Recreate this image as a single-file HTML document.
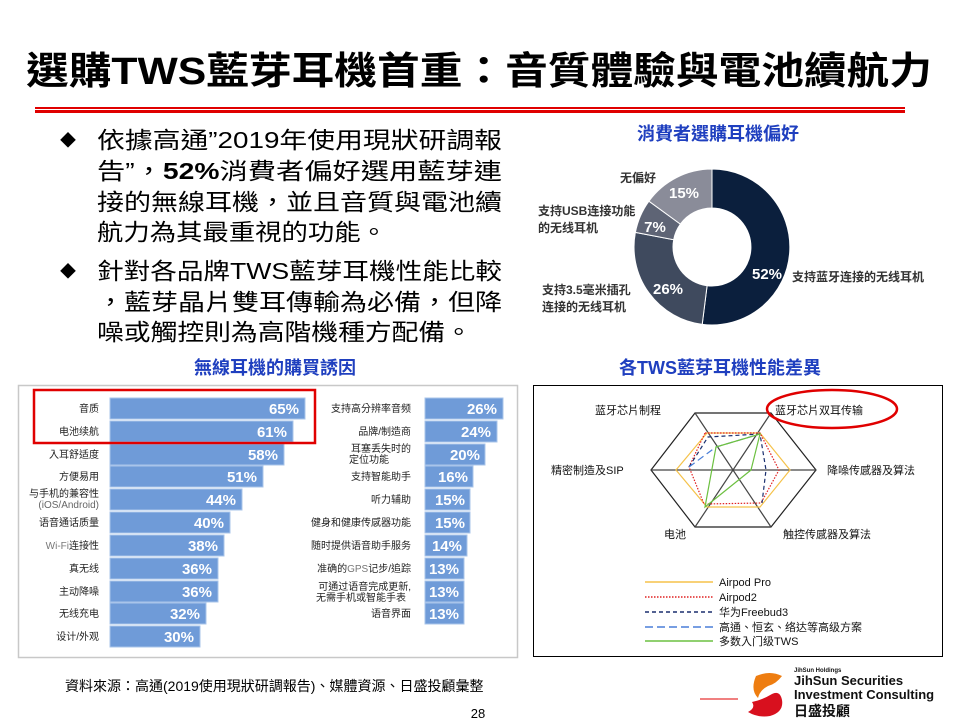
<!DOCTYPE html>
<html><head><meta charset="utf-8"><style>
html,body{margin:0;padding:0;background:#fff}
svg{display:block}
text{font-family:"Liberation Sans","Noto Sans CJK TC","Noto Sans CJK SC",sans-serif}
</style></head><body>
<svg width="960" height="720" viewBox="0 0 960 720" xmlns="http://www.w3.org/2000/svg">
<!-- Title -->
<text x="26" y="84" font-size="38" font-weight="bold" fill="#000" textLength="906" lengthAdjust="spacingAndGlyphs">選購TWS藍芽耳機首重：音質體驗與電池續航力</text>
<rect x="35" y="107" width="870" height="2" fill="#e00000"/>
<rect x="35" y="110" width="870" height="3" fill="#e00000"/>

<!-- Bullets -->
<g font-size="23" fill="#000">
<text x="60" y="146" font-size="16">◆</text>
<text x="97" y="148" textLength="405" lengthAdjust="spacingAndGlyphs">依據高通”2019年使用現狀研調報</text>
<text x="97" y="179" textLength="405" lengthAdjust="spacingAndGlyphs">告”，<tspan font-weight="bold">52%</tspan>消費者偏好選用藍芽連</text>
<text x="97" y="210" textLength="405" lengthAdjust="spacingAndGlyphs">接的無線耳機，並且音質與電池續</text>
<text x="97" y="240" textLength="290" lengthAdjust="spacingAndGlyphs">航力為其最重視的功能。</text>
<text x="60" y="277" font-size="16">◆</text>
<text x="97" y="279" textLength="405" lengthAdjust="spacingAndGlyphs">針對各品牌TWS藍芽耳機性能比較</text>
<text x="97" y="310" textLength="405" lengthAdjust="spacingAndGlyphs">，藍芽晶片雙耳傳輸為必備，但降</text>
<text x="97" y="340" textLength="375" lengthAdjust="spacingAndGlyphs">噪或觸控則為高階機種方配備。</text>
</g>

<!-- Section titles -->
<g font-size="18" font-weight="bold" fill="#1f3fbf" text-anchor="middle">
<text x="718" y="140">消費者選購耳機偏好</text>
<text x="275" y="374">無線耳機的購買誘因</text>
<text x="720" y="374">各TWS藍芽耳機性能差異</text>
</g>

<!-- Donut -->
<g stroke="#fff" stroke-width="1">
<path d="M712,169 A78,78 0 1 1 702.2,324.4 L707.1,285.7 A39,39 0 1 0 712,208 Z" fill="#0b1f3d"/>
<path d="M702.2,324.4 A78,78 0 0 1 635.4,232.4 L673.7,239.7 A39,39 0 0 0 707.1,285.7 Z" fill="#3f4a5e"/>
<path d="M635.4,232.4 A78,78 0 0 1 648.9,201.2 L680.4,224.1 A39,39 0 0 0 673.7,239.7 Z" fill="#5e6475"/>
<path d="M648.9,201.2 A78,78 0 0 1 712,169 L712,208 A39,39 0 0 0 680.4,224.1 Z" fill="#8a8c99"/>
</g>
<g fill="#fff" font-weight="bold" font-size="15" text-anchor="middle">
<text x="767" y="279">52%</text>
<text x="668" y="294">26%</text>
<text x="655" y="232">7%</text>
<text x="684" y="198">15%</text>
</g>
<g fill="#333" font-size="12" font-weight="bold">
<text x="792" y="281">支持蓝牙连接的无线耳机</text>
<text x="542" y="294">支持3.5毫米插孔</text>
<text x="542" y="311">连接的无线耳机</text>
<text x="538" y="215">支持USB连接功能</text>
<text x="538" y="232">的无线耳机</text>
<text x="620" y="182">无偏好</text>
</g>

<!-- Bar chart panel -->
<rect x="18.5" y="385.5" width="499" height="272" fill="#fff" stroke="#c8c8c8" stroke-width="1.5"/>
<g id="bars">
<g fill="#6f9bd8" stroke="#a9c4ea" stroke-width="1">
<rect x="110" y="398" width="195" height="21"/>
<rect x="110" y="421" width="183" height="21"/>
<rect x="110" y="444" width="174" height="21"/>
<rect x="110" y="466" width="153" height="21"/>
<rect x="110" y="489" width="132" height="21"/>
<rect x="110" y="512" width="120" height="21"/>
<rect x="110" y="535" width="114" height="21"/>
<rect x="110" y="558" width="108" height="21"/>
<rect x="110" y="581" width="108" height="21"/>
<rect x="110" y="603" width="96" height="21"/>
<rect x="110" y="626" width="90" height="21"/>
<rect x="425" y="398" width="78" height="21"/>
<rect x="425" y="421" width="72" height="21"/>
<rect x="425" y="444" width="60" height="21"/>
<rect x="425" y="466" width="48" height="21"/>
<rect x="425" y="489" width="45" height="21"/>
<rect x="425" y="512" width="45" height="21"/>
<rect x="425" y="535" width="42" height="21"/>
<rect x="425" y="558" width="39" height="21"/>
<rect x="425" y="581" width="39" height="21"/>
<rect x="425" y="603" width="39" height="21"/>
</g>
<g fill="#fff" font-weight="bold" font-size="15" text-anchor="end">
<text x="299" y="414">65%</text><text x="287" y="437">61%</text><text x="278" y="460">58%</text>
<text x="257" y="482">51%</text><text x="236" y="505">44%</text><text x="224" y="528">40%</text>
<text x="218" y="551">38%</text><text x="212" y="574">36%</text><text x="212" y="597">36%</text>
<text x="200" y="619">32%</text><text x="194" y="642">30%</text>
<text x="497" y="414">26%</text><text x="491" y="437">24%</text><text x="480" y="460">20%</text>
<text x="468" y="482">16%</text><text x="465" y="505">15%</text><text x="465" y="528">15%</text>
<text x="462" y="551">14%</text><text x="459" y="574">13%</text><text x="459" y="597">13%</text>
<text x="459" y="619">13%</text>
</g>
<g fill="#222" font-size="10" text-anchor="end">
<text x="99" y="412">音质</text><text x="99" y="435">电池续航</text><text x="99" y="458">入耳舒适度</text>
<text x="99" y="480">方便易用</text>
<text x="99" y="497">与手机的兼容性</text><text x="99" y="508" fill="#666">(iOS/Android)</text>
<text x="99" y="526">语音通话质量</text><text x="99" y="549"><tspan fill="#777">Wi-Fi</tspan>连接性</text>
<text x="99" y="572">真无线</text><text x="99" y="595">主动降噪</text><text x="99" y="617">无线充电</text>
<text x="99" y="640">设计/外观</text>
<text x="411" y="412">支持高分辨率音频</text><text x="411" y="435">品牌/制造商</text>
<text x="411" y="452">耳塞丢失时的</text><text x="349" y="463" text-anchor="start">定位功能</text>
<text x="411" y="480">支持智能助手</text><text x="411" y="503">听力辅助</text>
<text x="411" y="526">健身和健康传感器功能</text><text x="411" y="549">随时提供语音助手服务</text>
<text x="411" y="572">准确的<tspan fill="#777">GPS</tspan>记步/追踪</text>
<text x="411" y="590">可通过语音完成更新,</text><text x="316" y="601" text-anchor="start">无需手机或智能手表</text>
<text x="411" y="617">语音界面</text>
</g>
</g>
<rect x="34" y="390" width="281" height="53" fill="none" stroke="#e00000" stroke-width="2.5"/>

<!-- Radar panel -->
<rect x="533.5" y="385.5" width="409" height="271" fill="#fff" stroke="#000" stroke-width="1"/>
<g fill="none" stroke-width="1.2">
<polygon points="695,413 771,413 816,470 771,527 695,527 651,470" stroke="#222"/>
<line x1="695" y1="413" x2="771" y2="527" stroke="#444"/>
<line x1="771" y1="413" x2="695" y2="527" stroke="#444"/>
<line x1="651" y1="470" x2="816" y2="470" stroke="#444"/>
<polygon points="707,433 760,433 790,470 760,507 707,507 676,470" stroke="#f5c24a"/>
<polygon points="705,433 760,433 779,470 761,503 704,504 689,467" stroke="#e02020" stroke-dasharray="1.5,1.5"/>
<polyline points="689,467 708,437 760,434 766,470 762,503" stroke="#1a2f6e" stroke-dasharray="4,3"/>
<polyline points="689,467 716,447 760,434" stroke="#4a7fd8" stroke-dasharray="7,4"/>
<polygon points="716,447 760,434 751,470 705,507" stroke="#6cc040"/>
</g>
<g fill="#111" font-size="11">
<text x="595" y="414">蓝牙芯片制程</text>
<text x="775" y="414">蓝牙芯片双耳传输</text>
<text x="551" y="474">精密制造及SIP</text>
<text x="827" y="474">降噪传感器及算法</text>
<text x="664" y="538">电池</text>
<text x="783" y="538">触控传感器及算法</text>
</g>
<ellipse cx="832" cy="409" rx="65" ry="19" fill="none" stroke="#e00000" stroke-width="2.5"/>
<g stroke-width="1.5">
<line x1="645" y1="582" x2="713" y2="582" stroke="#f5c24a"/>
<line x1="645" y1="597" x2="713" y2="597" stroke="#e02020" stroke-dasharray="1.5,1.5"/>
<line x1="645" y1="612" x2="713" y2="612" stroke="#1a2f6e" stroke-dasharray="4,3"/>
<line x1="645" y1="627" x2="713" y2="627" stroke="#4a7fd8" stroke-dasharray="8,4"/>
<line x1="645" y1="641" x2="713" y2="641" stroke="#6cc040"/>
</g>
<g fill="#111" font-size="11">
<text x="719" y="586">Airpod Pro</text>
<text x="719" y="601">Airpod2</text>
<text x="719" y="616">华为Freebud3</text>
<text x="719" y="631">高通、恒玄、络达等高级方案</text>
<text x="719" y="645">多数入门级TWS</text>
</g>

<!-- Footer -->
<text x="65" y="691" font-size="14" fill="#000">資料來源：高通(2019使用現狀研調報告)、媒體資源、日盛投顧彙整</text>
<text x="478" y="718" font-size="13" fill="#000" text-anchor="middle">28</text>
<line x1="700" y1="699" x2="738" y2="699" stroke="#e00000" stroke-width="1"/>
<path d="M756,676 Q770,670 782,676 Q776,684 768,686 Q760,690 758,698 Q750,690 756,676 Z" fill="#ee7d10"/>
<path d="M752,702 Q762,700 772,694 Q780,690 782,700 Q784,712 770,716 Q758,718 748,712 Q756,708 752,702 Z" fill="#d8101e"/>
<text x="794" y="672" font-size="6" font-weight="bold" fill="#111">JihSun Holdings</text>
<text x="794" y="685" font-size="13" font-weight="bold" fill="#111">JihSun Securities</text>
<text x="794" y="699" font-size="13" font-weight="bold" fill="#111">Investment Consulting</text>
<text x="794" y="716" font-size="14" font-weight="bold" fill="#111">日盛投顧</text>
</svg>
</body></html>
